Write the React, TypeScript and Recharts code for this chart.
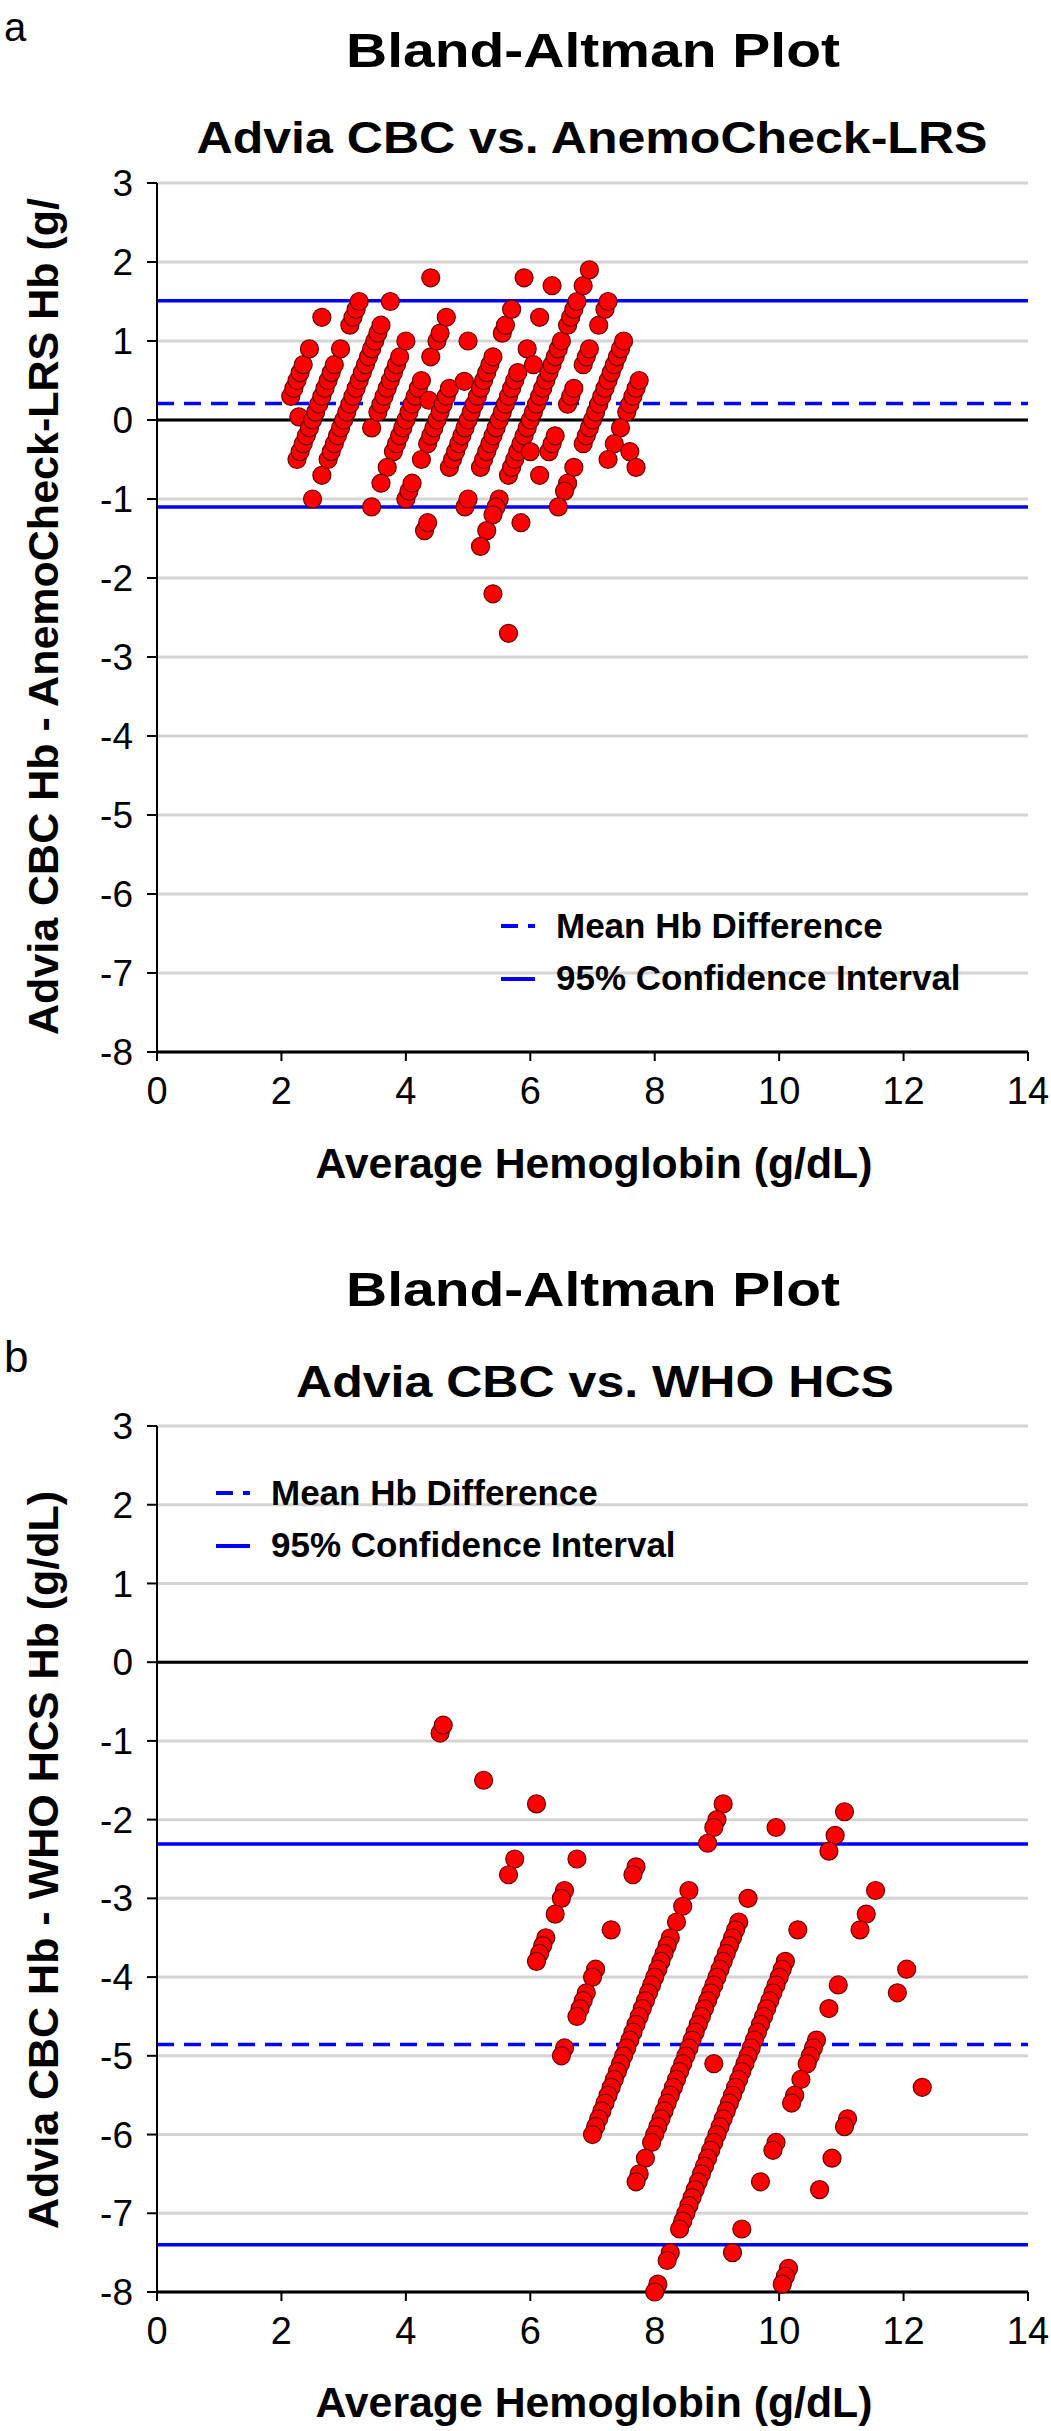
import React from "react"
import { ScatterChart, Scatter, XAxis, YAxis, CartesianGrid, ReferenceLine, Legend } from "recharts"

const FONT = '"Liberation Sans", Arial, Helvetica, sans-serif'

// [average Hb, difference] (Advia CBC vs AnemoCheck-LRS)
const anemoCheckPoints: [number, number][] = [
  [2.15, 0.3], [2.2, 0.4], [2.25, 0.5], [2.3, 0.6], [2.35, 0.7], [2.45, 0.9], [2.65, 1.3], [2.28, 0.04],
  [2.25, -0.5], [2.3, -0.4], [2.35, -0.3], [2.4, -0.2], [2.45, -0.1], [2.5, 0], [2.55, 0.1], [2.6, 0.2],
  [2.65, 0.3], [2.7, 0.4], [2.75, 0.5], [2.8, 0.6], [2.85, 0.7], [2.95, 0.9], [3.1, 1.2], [3.15, 1.3],
  [3.2, 1.4], [3.25, 1.5],
  [2.75, -0.5], [2.8, -0.4], [2.85, -0.3], [2.9, -0.2], [2.95, -0.1], [3.0, 0], [3.05, 0.1], [3.1, 0.2],
  [3.15, 0.3], [3.2, 0.4], [3.25, 0.5], [3.3, 0.6], [3.35, 0.7], [3.4, 0.8], [3.45, 0.9], [3.5, 1.0],
  [3.55, 1.1], [3.6, 1.2], [2.65, -0.7], [2.5, -1.0], [3.75, 1.5],
  [3.45, -0.1], [3.55, 0.1], [3.6, 0.2], [3.65, 0.3], [3.7, 0.4], [3.75, 0.5], [3.8, 0.6], [3.85, 0.7],
  [3.9, 0.8], [4.0, 1.0], [4.4, 1.8],
  [3.8, -0.4], [3.85, -0.3], [3.9, -0.2], [3.95, -0.1], [4.0, 0], [4.05, 0.1], [4.1, 0.2], [4.15, 0.3],
  [4.2, 0.4], [4.25, 0.5], [3.7, -0.6], [3.6, -0.8], [3.45, -1.1], [4.4, 0.8], [4.5, 1.0], [4.55, 1.1],
  [4.65, 1.3], [4.37, 0.25],
  [4.0, -1.0], [4.05, -0.9], [4.1, -0.8], [4.25, -0.5], [4.35, -0.3], [4.4, -0.2], [4.45, -0.1], [4.5, 0],
  [4.55, 0.1], [4.6, 0.2], [4.65, 0.3], [4.7, 0.4], [5.0, 1.0],
  [4.3, -1.4], [4.35, -1.3], [4.7, -0.6], [4.75, -0.5], [4.8, -0.4], [4.85, -0.3], [4.9, -0.2], [4.95, -0.1],
  [5.0, 0], [5.05, 0.1], [5.1, 0.2], [5.15, 0.3], [5.2, 0.4], [5.25, 0.5], [5.3, 0.6], [5.35, 0.7],
  [5.4, 0.8], [5.55, 1.1], [5.6, 1.2], [5.7, 1.4], [5.9, 1.8], [4.94, 0.49],
  [4.95, -1.1], [5.0, -1.0], [5.2, -0.6], [5.25, -0.5], [5.3, -0.4], [5.35, -0.3], [5.4, -0.2], [5.45, -0.1],
  [5.5, 0], [5.55, 0.1], [5.6, 0.2], [5.65, 0.3], [5.7, 0.4], [5.75, 0.5], [5.8, 0.6], [5.95, 0.9],
  [6.15, 1.3], [6.35, 1.7], [6.05, 0.7],
  [5.65, -0.7], [5.7, -0.6], [5.75, -0.5], [5.8, -0.4], [5.85, -0.3], [5.9, -0.2], [5.95, -0.1], [6.0, 0],
  [6.05, 0.1], [6.1, 0.2], [6.15, 0.3], [6.2, 0.4], [6.25, 0.5], [6.3, 0.6], [6.35, 0.7], [6.4, 0.8],
  [6.45, 0.9], [6.5, 1.0], [6.6, 1.2], [6.65, 1.3], [6.7, 1.4], [6.75, 1.5], [6.85, 1.7], [6.95, 1.9],
  [5.5, -1.0], [5.45, -1.1], [5.4, -1.2], [5.3, -1.4], [5.2, -1.6],
  [5.4, -2.2], [5.85, -1.3], [6.15, -0.7], [6.3, -0.4], [6.35, -0.3], [6.4, -0.2], [6.6, 0.2], [6.65, 0.3],
  [6.7, 0.4], [6.85, 0.7], [6.9, 0.8], [6.95, 0.9], [7.1, 1.2], [7.2, 1.4], [7.25, 1.5], [6.0, -0.4],
  [6.85, -0.3], [6.9, -0.2], [6.95, -0.1], [7.0, 0], [7.05, 0.1], [7.1, 0.2], [7.15, 0.3], [7.2, 0.4],
  [7.25, 0.5], [7.3, 0.6], [7.35, 0.7], [7.4, 0.8], [7.45, 0.9], [7.5, 1.0], [6.7, -0.6], [6.6, -0.8],
  [6.55, -0.9], [6.45, -1.1], [5.65, -2.7],
  [7.55, 0.1], [7.6, 0.2], [7.65, 0.3], [7.7, 0.4], [7.75, 0.5], [7.45, -0.1], [7.35, -0.3], [7.25, -0.5],
  [7.6, -0.4], [7.7, -0.6],
]

// [average Hb, difference] (Advia CBC vs WHO HCS)
const whoHcsPoints: [number, number][] = [
  [4.55, -0.9], [4.6, -0.8], [5.25, -1.5], [6.1, -1.8], [5.75, -2.5], [5.65, -2.7],
  [6.75, -2.5], [6.55, -2.9], [6.5, -3.0], [6.4, -3.2], [6.25, -3.5], [6.2, -3.6], [6.15, -3.7], [6.1, -3.8],
  [7.7, -2.6], [7.65, -2.7], [7.3, -3.4], [7.05, -3.9], [7.0, -4.0], [6.9, -4.2], [6.85, -4.3], [6.8, -4.4],
  [6.75, -4.5], [6.55, -4.9], [6.5, -5.0],
  [9.1, -1.8], [9.0, -2.0], [8.95, -2.1], [8.85, -2.3], [8.55, -2.9], [8.45, -3.1], [8.35, -3.3],
  [8.25, -3.5], [8.2, -3.6], [8.15, -3.7], [8.1, -3.8], [8.05, -3.9], [8.0, -4.0], [7.95, -4.1], [7.9, -4.2],
  [7.85, -4.3], [7.8, -4.4], [7.75, -4.5], [7.7, -4.6], [7.65, -4.7], [7.6, -4.8], [7.55, -4.9], [7.5, -5.0],
  [7.45, -5.1], [7.4, -5.2], [7.35, -5.3], [7.3, -5.4], [7.25, -5.5], [7.2, -5.6], [7.15, -5.7], [7.1, -5.8],
  [7.05, -5.9], [7.0, -6.0],
  [9.95, -2.1], [9.5, -3.0], [9.35, -3.3], [9.3, -3.4], [9.25, -3.5], [9.2, -3.6], [9.15, -3.7], [9.1, -3.8],
  [9.05, -3.9], [9.0, -4.0], [8.95, -4.1], [8.9, -4.2], [8.85, -4.3], [8.8, -4.4], [8.75, -4.5], [8.7, -4.6],
  [8.65, -4.7], [8.6, -4.8], [8.55, -4.9], [8.5, -5.0], [8.45, -5.1], [8.4, -5.2], [8.35, -5.3], [8.3, -5.4],
  [8.25, -5.5], [8.2, -5.6], [8.15, -5.7], [8.1, -5.8], [8.05, -5.9], [8.0, -6.0], [7.95, -6.1], [7.85, -6.3],
  [7.75, -6.5], [7.7, -6.6], [8.95, -5.1],
  [11.05, -1.9], [10.9, -2.2], [10.8, -2.4], [10.3, -3.4], [10.1, -3.8], [10.05, -3.9], [10.0, -4.0], [9.95, -4.1],
  [9.9, -4.2], [9.85, -4.3], [9.8, -4.4], [9.75, -4.5], [9.7, -4.6], [9.65, -4.7], [9.6, -4.8], [9.55, -4.9],
  [9.5, -5.0], [9.45, -5.1], [9.4, -5.2], [9.35, -5.3], [9.3, -5.4], [9.25, -5.5], [9.2, -5.6], [9.15, -5.7],
  [9.1, -5.8], [9.05, -5.9], [9.0, -6.0], [8.95, -6.1], [8.9, -6.2], [8.85, -6.3], [8.8, -6.4], [8.75, -6.5],
  [8.7, -6.6], [8.65, -6.7], [8.6, -6.8], [8.55, -6.9], [8.5, -7.0], [8.45, -7.1], [8.4, -7.2], [8.25, -7.5],
  [8.2, -7.6], [8.05, -7.9], [8.0, -8.0],
  [11.55, -2.9], [11.4, -3.2], [11.3, -3.4], [10.95, -4.1], [10.8, -4.4], [10.6, -4.8], [10.55, -4.9], [10.5, -5.0],
  [10.45, -5.1], [10.35, -5.3], [10.25, -5.5], [10.2, -5.6], [9.95, -6.1], [9.9, -6.2], [9.7, -6.6], [9.4, -7.2],
  [9.25, -7.5],
  [12.05, -3.9], [11.9, -4.2], [11.1, -5.8], [11.05, -5.9], [10.85, -6.3], [10.65, -6.7], [10.15, -7.7], [10.1, -7.8],
  [10.05, -7.9], [12.3, -5.4],
]

const anemoMean = 0.21
const anemoUpper = 1.51
const anemoLower = -1.1
const whoMean = -4.855
const whoUpper = -2.31
const whoLower = -7.4

const xTicks = [0, 2, 4, 6, 8, 10, 12, 14]
const yTicks = [-8, -7, -6, -5, -4, -3, -2, -1, 0, 1, 2, 3]

const toXY = (pts: [number, number][]) => pts.map(([x, y]) => ({ x, y }))

const Dot = (p: any) => <circle cx={p.cx} cy={p.cy} r={9} fill="#FF0000" stroke="#6E0000" strokeWidth={1.2} />

const LegendBox = () => (
  <svg width={480} height={100} style={{ display: "block", overflow: "visible" }}>
    <line x1={0} x2={34} y1={26} y2={26} stroke="#0000FF" strokeWidth={4} strokeDasharray="17 10" />
    <text x={55} y={38} fontSize={35} fontWeight="bold" fontFamily={FONT} fill="#000">Mean Hb Difference</text>
    <line x1={0} x2={34} y1={79} y2={79} stroke="#0000FF" strokeWidth={4} />
    <text x={55} y={90} fontSize={35} fontWeight="bold" fontFamily={FONT} fill="#000">95% Confidence Interval</text>
  </svg>
)

function Panel({ points, mean, upper, lower, height, top, bottom, legendLeft, legendTop }: any) {
  return (
    <ScatterChart width={1051} height={height} margin={{ top, right: 23, bottom: bottom - 60, left: 97 }}>
      <CartesianGrid vertical={false} stroke="#D4D4D4" strokeWidth={3} />
      <XAxis type="number" dataKey="x" domain={[0, 14]} ticks={xTicks} interval={0} height={60}
        tick={{ fill: "#000", fontSize: 38, fontFamily: FONT }} tickSize={9} tickMargin={16}
        axisLine={{ stroke: "#000", strokeWidth: 3 }} tickLine={{ stroke: "#000", strokeWidth: 2 }} />
      <YAxis type="number" dataKey="y" domain={[-8, 3]} ticks={yTicks} interval={0} width={60}
        tick={{ fill: "#000", fontSize: 37, fontFamily: FONT }} tickSize={10} tickMargin={14}
        axisLine={{ stroke: "#000", strokeWidth: 2 }} tickLine={{ stroke: "#000", strokeWidth: 2 }} />
      <ReferenceLine y={0} stroke="#000" strokeWidth={3} />
      <Scatter name="Hb" data={toXY(points)} shape={Dot} isAnimationActive={false} />
      <ReferenceLine y={upper} stroke="#0000FF" strokeWidth={3.5} />
      <ReferenceLine y={lower} stroke="#0000FF" strokeWidth={3.5} />
      <ReferenceLine y={mean} stroke="#0000FF" strokeWidth={3.5} strokeDasharray="17 10" />
      <Legend layout="vertical" align="center" verticalAlign="middle"
        wrapperStyle={{ left: legendLeft, top: legendTop, width: 480, height: 100 }} content={() => <LegendBox />} />
    </ScatterChart>
  )
}

export default function App() {
  const bold = { fontFamily: FONT, fontWeight: "bold" as const, fill: "#000" }
  return (
    <div style={{ position: "absolute", left: 0, top: 0, width: 1051, height: 2431, background: "#fff", fontFamily: FONT }}>
      <div style={{ position: "absolute", left: 0, top: 0 }}>
        <Panel points={anemoCheckPoints} mean={anemoMean} upper={anemoUpper} lower={anemoLower}
          height={1215} top={183} bottom={163} legendLeft={501} legendTop={900} />
      </div>
      <div style={{ position: "absolute", left: 0, top: 1240 }}>
        <Panel points={whoHcsPoints} mean={whoMean} upper={whoUpper} lower={whoLower}
          height={1191} top={186} bottom={139} legendLeft={216} legendTop={227} />
      </div>
      <svg width={1051} height={2431} style={{ position: "absolute", left: 0, top: 0, pointerEvents: "none" }}>
        <text x={4} y={41} fontSize={40} fontFamily={FONT} fill="#000">a</text>
        <text x={593} y={67} textAnchor="middle" fontSize={49} textLength={494} lengthAdjust="spacingAndGlyphs" {...bold}>Bland-Altman Plot</text>
        <text x={592} y={153} textAnchor="middle" fontSize={45} textLength={791} lengthAdjust="spacingAndGlyphs" {...bold}>Advia CBC vs. AnemoCheck-LRS</text>
        <text transform="translate(58,1035) rotate(-90)" fontSize={43} {...bold}>Advia CBC Hb - AnemoCheck-LRS Hb (g/</text>
        <text x={594} y={1178} textAnchor="middle" fontSize={42} textLength={557} lengthAdjust="spacingAndGlyphs" {...bold}>Average Hemoglobin (g/dL)</text>

        <text x={4} y={1372} fontSize={44} fontFamily={FONT} fill="#000">b</text>
        <text x={593} y={1306} textAnchor="middle" fontSize={49} textLength={494} lengthAdjust="spacingAndGlyphs" {...bold}>Bland-Altman Plot</text>
        <text x={595} y={1397} textAnchor="middle" fontSize={45} textLength={598} lengthAdjust="spacingAndGlyphs" {...bold}>Advia CBC vs. WHO HCS</text>
        <text transform="translate(58,1860) rotate(-90)" textAnchor="middle" fontSize={43} {...bold}>Advia CBC Hb - WHO HCS Hb (g/dL)</text>
        <text x={594} y={2417} textAnchor="middle" fontSize={42} textLength={557} lengthAdjust="spacingAndGlyphs" {...bold}>Average Hemoglobin (g/dL)</text>
      </svg>
    </div>
  )
}
